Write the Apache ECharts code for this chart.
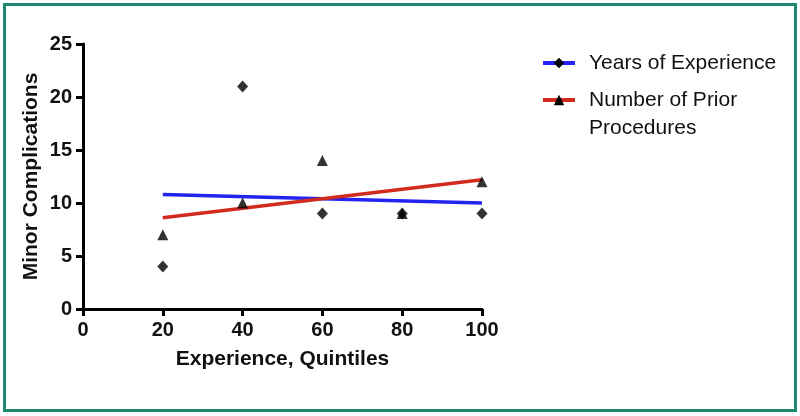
<!DOCTYPE html>
<html>
<head>
<meta charset="utf-8">
<script src="https://cdn.jsdelivr.net/npm/echarts@6/dist/echarts.min.js"></script>
<style>
html,body{margin:0;padding:0;background:#fff;}
#wrap{position:relative;width:800px;height:416px;}
#chart{position:absolute;left:0;top:0;width:800px;height:416px;}
#frame{position:absolute;left:3px;top:3px;width:788px;height:403px;border:3px solid #1e8a6f;pointer-events:none;}
</style>
</head>
<body>
<div id="wrap"><div id="chart"></div><div id="frame"></div></div>
<script>
// Data
const quintiles = [20, 40, 60, 80, 100];
const yearsExp = [4, 21, 9, 9, 9];
const priorProc = [7, 10, 14, 9, 12];
const yearsFit = [[20, 10.8], [100, 10.0]];
const priorFit = [[20, 8.6], [100, 12.2]];
const xTicks = [0, 20, 40, 60, 80, 100];
const yTicks = [0, 5, 10, 15, 20, 25];

const nameYears = 'Years of Experience';
const nameProc = 'Number of Prior Procedures';
const FONT = '"Liberation Sans", Arial, Helvetica, sans-serif';
const BLUE = '#2424f2';
const RED = '#d32a1f';

const chart = echarts.init(document.getElementById('chart'), null, {renderer: 'canvas'});
const legendCommon = {
  orient: 'vertical',
  left: 541,
  padding: 0,
  itemWidth: 32,
  itemHeight: 13,
  selectedMode: false,
  lineStyle: {width: 4},
  textStyle: {fontFamily: FONT, fontSize: 21, color: '#111', lineHeight: 28, padding: [0, 0, 0, 9]}
};
chart.setOption({
  animation: false,
  grid: {left: 83, right: 318, top: 44, bottom: 107, containLabel: false},
  legend: [
    Object.assign({}, legendCommon, {top: 49, data: [nameYears]}),
    Object.assign({}, legendCommon, {top: 58, data: [nameProc],
      formatter: function () { return '\nNumber of Prior\nProcedures'; }})
  ],
  xAxis: {
    type: 'value', min: xTicks[0], max: xTicks[xTicks.length - 1], interval: 20,
    name: 'Experience, Quintiles', nameLocation: 'middle', nameGap: 40,
    nameTextStyle: {fontFamily: FONT, fontSize: 21, fontWeight: 'bold', color: '#111'},
    axisLine: {lineStyle: {color: '#000', width: 3}},
    axisTick: {show: true, length: 7, lineStyle: {color: '#000', width: 3}},
    axisLabel: {margin: 11, fontFamily: FONT, fontSize: 20, fontWeight: 'bold', color: '#111'},
    splitLine: {show: false}
  },
  yAxis: {
    type: 'value', min: yTicks[0], max: yTicks[yTicks.length - 1], interval: 5,
    name: 'Minor Complications', nameLocation: 'middle', nameGap: 41, nameRotate: 90,
    nameTextStyle: {fontFamily: FONT, fontSize: 21, fontWeight: 'bold', color: '#111'},
    axisLine: {show: true, lineStyle: {color: '#000', width: 3}},
    axisTick: {show: true, length: 7, lineStyle: {color: '#000', width: 3}},
    axisLabel: {margin: 11, fontFamily: FONT, fontSize: 20, fontWeight: 'bold', color: '#111'},
    splitLine: {show: false}
  },
  series: [
    {
      name: nameYears, type: 'line', data: yearsFit, symbol: 'diamond', showSymbol: false,
      itemStyle: {color: '#000'}, lineStyle: {color: BLUE, width: 3.5}, z: 2
    },
    {
      name: nameProc, type: 'line', data: priorFit, symbol: 'triangle', showSymbol: false,
      itemStyle: {color: '#000'}, lineStyle: {color: RED, width: 3.5}, z: 2
    },
    {
      name: 'yearsPts', type: 'scatter', symbol: 'diamond', symbolSize: [11, 12],
      data: quintiles.map((q, i) => [q, yearsExp[i]]), itemStyle: {color: '#000'}, z: 3
    },
    {
      name: 'procPts', type: 'scatter', symbol: 'triangle', symbolSize: [11, 11],
      data: quintiles.map((q, i) => [q, priorProc[i]]), itemStyle: {color: '#000'}, z: 3
    }
  ]
});
</script>
</body>
</html>
